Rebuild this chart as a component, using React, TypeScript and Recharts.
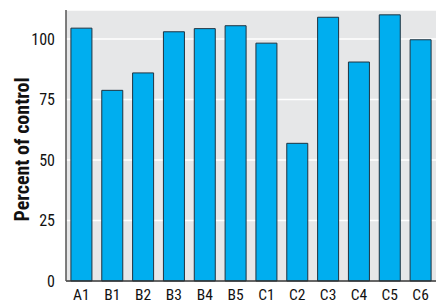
import React from "react";
import { BarChart, Bar, XAxis, YAxis, CartesianGrid, Label } from "recharts";

const categories = ["A1", "B1", "B2", "B3", "B4", "B5", "C1", "C2", "C3", "C4", "C5", "C6"];
const percentOfControl = [104.5, 78.8, 86, 103, 104.3, 105.5, 98.3, 56.9, 109, 90.5, 110, 99.7];
const yTicks = [0, 25, 50, 75, 100];

const data = categories.map((c, i) => ({ name: c, value: percentOfControl[i] }));

const FONT = '"Liberation Sans Narrow", "Arial Narrow", "Roboto Condensed", "Liberation Sans", sans-serif';

export default function App() {
  return (
    <div style={{ position: "absolute", left: 0, top: 0, width: 440, height: 304, background: "#fff" }}>
      <BarChart
        width={440}
        height={304}
        data={data}
        margin={{ top: 10, right: 4, left: 0, bottom: 0 }}
        barCategoryGap="16%"
      >
        <CartesianGrid fill="#E6E7E8" stroke="#FFFFFF" strokeWidth={1.5} vertical={false} />
        <XAxis
          dataKey="name"
          height={23}
          tickLine={false}
          axisLine={{ stroke: "#333333", strokeWidth: 1.5 }}
          tick={{ fill: "#111", fontSize: 15.5, fontFamily: FONT }}
          interval={0}
          tickMargin={2}
        />
        <YAxis
          width={66}
          domain={[0, 112]}
          ticks={yTicks}
          tickLine={false}
          axisLine={{ stroke: "#555555", strokeWidth: 1.5 }}
          tick={{ fill: "#111", fontSize: 16, fontFamily: FONT }}
          tickMargin={5}
        >
          <Label
            value="Percent of control"
            angle={-90}
            position="insideLeft"
            offset={22}
            dy={4}
            style={{ fill: "#111", fontSize: 20, fontWeight: "bold", fontFamily: FONT, textAnchor: "middle" }}
          />
        </YAxis>
        <Bar dataKey="value" fill="#00AEEF" stroke="#1F3340" strokeWidth={1} isAnimationActive={false} />
      </BarChart>
    </div>
  );
}
